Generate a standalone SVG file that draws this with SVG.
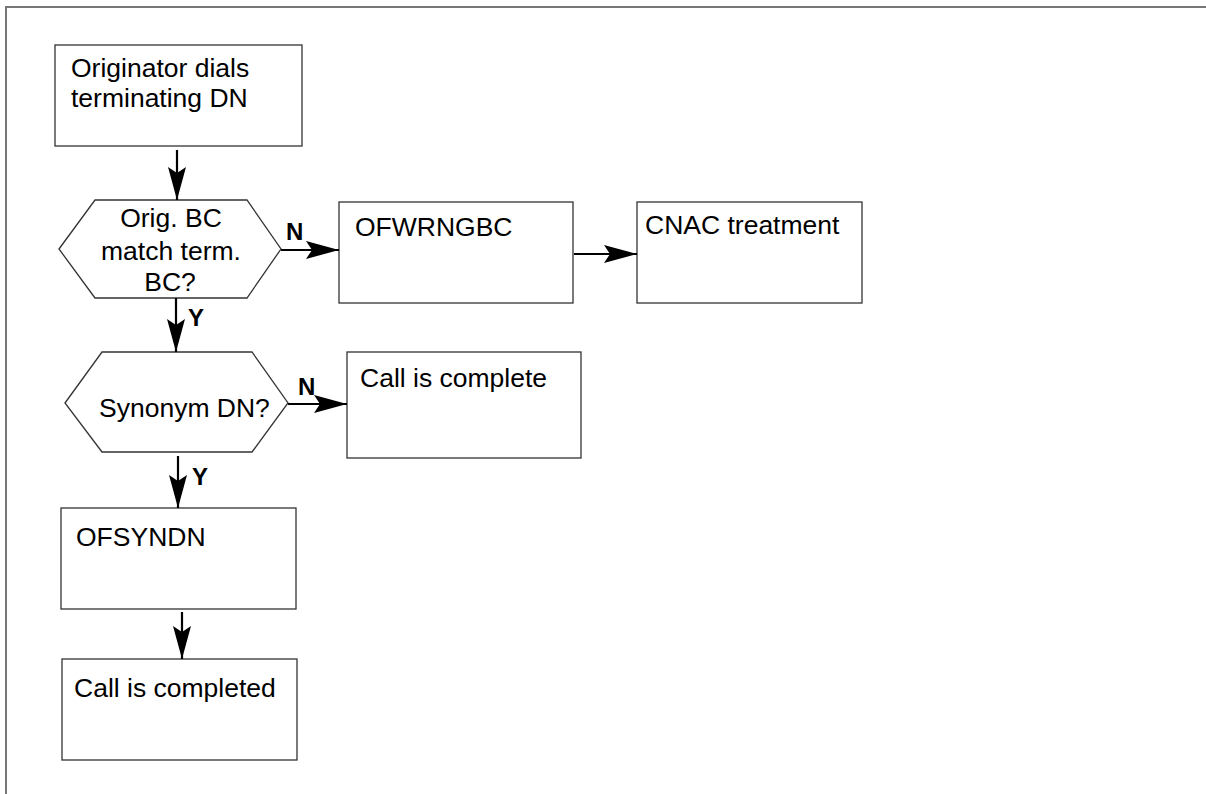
<svg xmlns="http://www.w3.org/2000/svg" width="1206" height="794" viewBox="0 0 1206 794">
<defs>
<style>
.box{fill:#fff;stroke:#333;stroke-width:1.3}
.t{font-family:"Liberation Sans",Arial,Helvetica,sans-serif;font-size:26.5px;fill:#000}
.c{text-anchor:middle}
.lb{font-family:"Liberation Sans",Arial,Helvetica,sans-serif;font-size:24px;font-weight:bold;fill:#000}
.edge{stroke:#000;stroke-width:2.2;fill:none;marker-end:url(#ah)}
</style>
<marker id="ah" markerUnits="userSpaceOnUse" markerWidth="40" markerHeight="24" viewBox="-34 -12 36 24" refX="0" refY="0" orient="auto">
<path d="M-33,-9 L0,0 L-33,9 L-27,0 z" fill="#000"/>
</marker>
</defs>
<rect width="1206" height="794" fill="#fff"/>
<g id="frame">
<path d="M6,794 L6,7 L1206,7" fill="none" stroke="#777" stroke-width="2"/>
</g>
<g id="n1">
<rect class="box" x="55" y="45" width="247" height="101"/>
<text class="t" x="71" y="77">Originator dials</text>
<text class="t" x="71" y="107">terminating DN</text>
</g>
<g id="d1">
<polygon class="box" points="59,249 95,200 247,200 281,249 247,298 95,298"/>
<text class="t c" x="171" y="227">Orig. BC</text>
<text class="t c" x="171" y="260">match term.</text>
<text class="t c" x="170" y="291">BC?</text>
</g>
<g id="n2">
<rect class="box" x="339" y="202" width="234" height="101"/>
<text class="t" x="355" y="236">OFWRNGBC</text>
</g>
<g id="n3">
<rect class="box" x="637" y="202" width="225" height="101"/>
<text class="t" x="645" y="234">CNAC treatment</text>
</g>
<g id="d2">
<polygon class="box" points="65,403 102,352 252,352 288,403 252,452 102,452"/>
<text class="t" x="99" y="417">Synonym DN?</text>
</g>
<g id="n4">
<rect class="box" x="347" y="352" width="234" height="106"/>
<text class="t" x="360" y="387">Call is complete</text>
</g>
<g id="n5">
<rect class="box" x="61" y="508" width="235" height="101"/>
<text class="t" x="76" y="546">OFSYNDN</text>
</g>
<g id="n6">
<rect class="box" x="62" y="659" width="235" height="101"/>
<text class="t" x="74" y="697">Call is completed</text>
</g>
<g id="connectors">
<line class="edge" x1="177" y1="150" x2="177" y2="200"/>
<line class="edge" x1="281" y1="250" x2="339" y2="250"/>
<line class="edge" x1="574" y1="254" x2="637" y2="254"/>
<line class="edge" x1="176" y1="298" x2="176" y2="352"/>
<line class="edge" x1="288" y1="404" x2="347" y2="404"/>
<line class="edge" x1="178" y1="456" x2="178" y2="508"/>
<line class="edge" x1="182" y1="612" x2="182" y2="659"/>
<text class="lb" x="286" y="240">N</text>
<text class="lb" x="188" y="326">Y</text>
<text class="lb" x="298" y="395">N</text>
<text class="lb" x="192" y="485">Y</text>
</g>
</svg>
